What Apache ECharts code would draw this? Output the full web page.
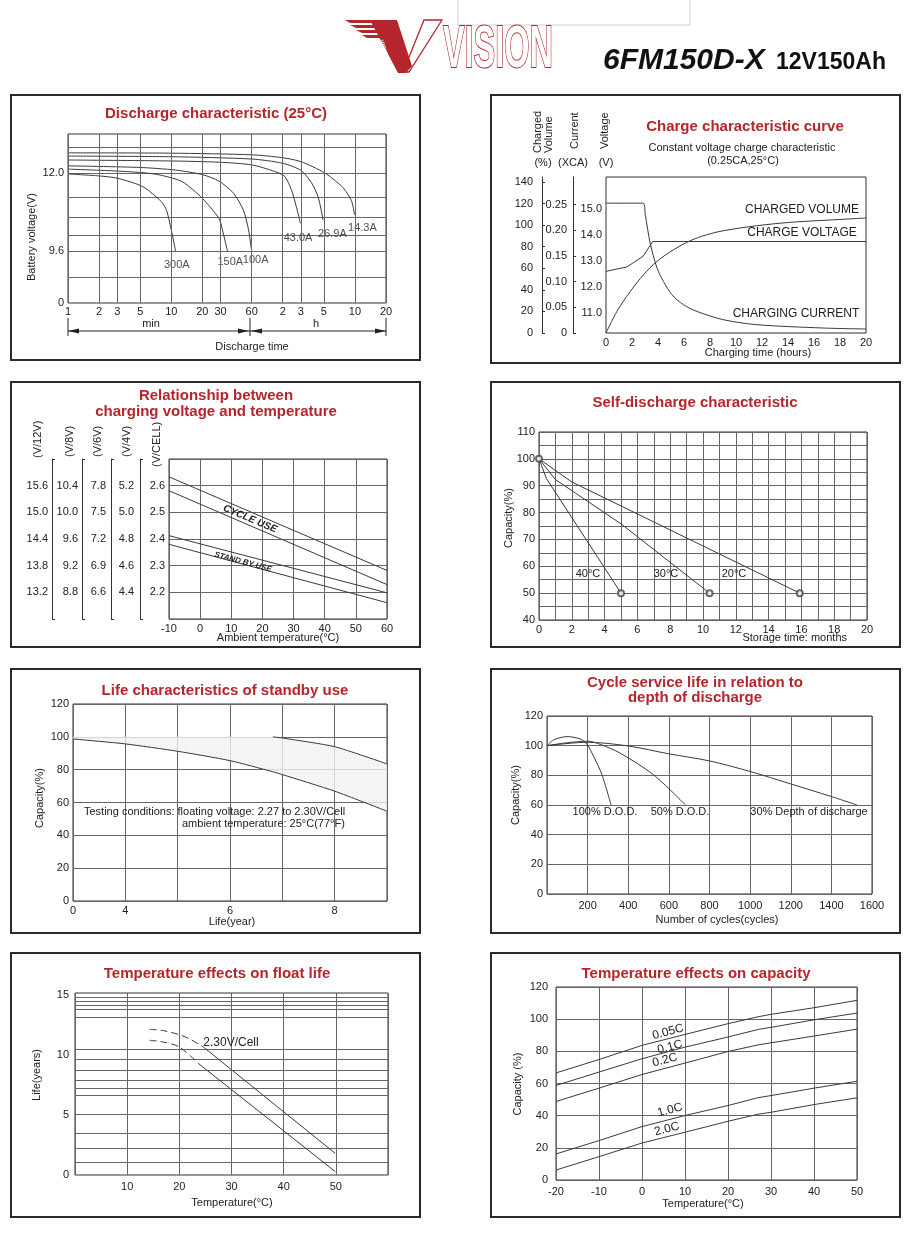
<!DOCTYPE html>
<html><head><meta charset="utf-8">
<script src="https://cdn.jsdelivr.net/npm/echarts@6.0.0/dist/echarts.min.js"></script>
<style>html,body{margin:0;padding:0;background:#fff}#c{width:920px;height:1236px}</style>
</head><body><div id="c"></div>
<script>
// ---------- Panel 1: Discharge characteristic (25°C) ----------
const dischargeTimeTicks = [1, 2, 3, 5, 10, 20, 30, 60, 120, 180, 300, 600, 1200]; // minutes
const dischargeTimeTickLabels = ['1', '2', '3', '5', '10', '20', '30', '60', '2', '3', '5', '10', '20'];
const dischargeVoltGrid = [8.8, 9.6, 10.1, 10.65, 11.25, 12.0, 12.8];
const dischargeVoltLabels = [8, 9.6, 12.0]; // bottom (8) is printed "0" on the broken axis
const dischargeCurrents = ['300A', '150A', '100A', '43.0A', '26.9A', '14.3A'];
const time300A = [1, 2, 3, 5.3, 8, 9, 10, 11];
const volt300A = [11.97, 11.91, 11.84, 11.58, 11.12, 10.85, 10.25, 9.6];
const time150A = [1, 3, 5.7, 8, 12.8, 20, 29, 31.3, 35];
const volt150A = [12.12, 12.06, 12.0, 11.93, 11.73, 11.22, 10.6, 10.25, 9.6];
const time100A = [1, 5, 11, 20, 29, 40, 50, 56, 60];
const volt100A = [12.22, 12.17, 12.09, 11.95, 11.75, 11.38, 10.85, 10.25, 9.6];
const time43A = [1, 10, 30, 60, 100, 125, 145, 163, 178];
const volt43A = [12.4, 12.37, 12.33, 12.25, 12.05, 11.9, 11.5, 10.95, 10.45];
const time26A = [1, 10, 60, 120, 180, 228, 265, 295];
const volt26A = [12.52, 12.5, 12.43, 12.3, 12.08, 11.7, 11.25, 10.55];
const time14A = [1, 10, 60, 120, 180, 307, 460, 555, 595];
const volt14A = [12.62, 12.61, 12.56, 12.47, 12.35, 12.0, 11.55, 11.15, 10.72];
const dischargeLabelTime = [11.3, 37.3, 65.6, 169, 363, 709];
const dischargeLabelVolt = [9.17, 9.27, 9.32, 10.01, 10.11, 10.3];

// ---------- Panel 2: Charge characteristic curve ----------
const chargeVolumeTicks = [0, 20, 40, 60, 80, 100, 120, 140];
const chargeCurrentTicks = [0, 0.05, 0.10, 0.15, 0.20, 0.25];
const chargeVoltageTicks = [11, 12, 13, 14, 15];
const volumeHours = [0, 0.84, 1.87, 2.89, 3.92, 5.2, 6.47, 7.76, 9.03, 11.6, 14.1, 16.7, 20];
const chargedVolume = [0, 20, 38.6, 54, 66.4, 77.2, 85.5, 91.1, 94.8, 99.4, 102.5, 104.4, 106.6];
const currentHours = [0, 2.85, 3.02, 3.4, 3.92, 4.42, 5.07, 5.96, 6.99, 9.03, 11.6, 16.7, 20];
const chargingCurrent = [0.253, 0.253, 0.2305, 0.175, 0.127, 0.1005, 0.0746, 0.0551, 0.0421, 0.0259, 0.0162, 0.0097, 0.0078];
const voltageHours = [0, 1.6, 2.85, 3.6, 20];
const chargeVoltage = [12.6, 12.77, 13.18, 13.75, 13.75];

// ---------- Panel 3: Charging voltage vs temperature ----------
const ambientTemp = [-10, 60];
const cycleUseUpper = [2.633, 2.282];
const cycleUseLower = [2.581, 2.229];
const standbyUseUpper = [2.4125, 2.198];
const standbyUseLower = [2.38, 2.161];
const perCellTicks = [2.2, 2.3, 2.4, 2.5, 2.6];
const per4VTicks = [4.4, 4.6, 4.8, 5.0, 5.2];
const per6VTicks = [6.6, 6.9, 7.2, 7.5, 7.8];
const per8VTicks = [8.8, 9.2, 9.6, 10.0, 10.4];
const per12VTicks = [13.2, 13.8, 14.4, 15.0, 15.6];

// ---------- Panel 4: Self-discharge ----------
const months40C = [0, 0.45, 5];
const capacity40C = [100, 92.7, 50];
const months30C = [0, 1, 5, 10.4];
const capacity30C = [100, 92.3, 75.8, 50];
const months20C = [0, 2, 15.9];
const capacity20C = [100, 91.4, 50];

// ---------- Panel 5: Standby life ----------
const standbyYearTickLabels = ['0', '4', '', '6', '', '8', ''];
const standbyGridPos = [0, 1, 2, 3, 3.82, 4, 5, 6];
const standbyUpperCap = [100, 100, 100, 100, 100, 99.3, 94, 83.5];
const standbyLowerCap = [98.7, 95.7, 91.2, 85.5, 78.7, 77, 66.9, 54.7];

// ---------- Panel 6: Cycle life vs DOD ----------
const cycles100DOD = [0, 32, 98, 164, 197, 230, 271, 315];
const capacity100DOD = [100, 103.8, 106.1, 104.5, 100.9, 92.6, 80.3, 60.1];
const cycles50DOD = [0, 100, 200, 262, 361, 525, 681];
const capacity50DOD = [100, 102, 103, 100.9, 94.9, 80.3, 60.1];
const cycles30DOD = [0, 200, 400, 600, 800, 1000, 1200, 1400, 1526];
const capacity30DOD = [100, 102.3, 99.8, 94.5, 89.7, 82.6, 74.2, 65.7, 60];

// ---------- Panel 7: Temperature vs float life ----------
const floatLifeTicks = [0, 5, 10, 15];
const floatLifeGrid = [1.05, 2.22, 3.47, 5.08, 6.67, 7.28, 7.92, 8.75, 9.67, 10.47, 13.19, 13.88, 14.17, 14.5, 14.86];
const upperDashTemp = [14.3, 17.0, 20.0, 22.1, 24.6];
const upperDashLife = [12.17, 12.05, 11.72, 11.33, 10.69];
const upperSolidTemp = [24.6, 49.9];
const upperSolidLife = [10.69, 1.8];
const lowerDashTemp = [14.3, 17.0, 20.0, 23.7];
const lowerDashLife = [11.25, 11.1, 10.69, 9.3];
const lowerSolidTemp = [23.7, 49.9];
const lowerSolidLife = [9.3, 0.28];

// ---------- Panel 8: Temperature vs capacity ----------
const capTemps = [-20, -10, 0, 10, 20, 27, 30, 40, 50];
const cap005C = [66.6, 74.9, 83.7, 90.5, 97.2, 101.5, 103, 107.1, 111.7];
const cap01C = [58.8, 67.1, 75.4, 82.6, 88.9, 93.6, 94.9, 99.6, 103.8];
const cap02C = [48.8, 57.1, 65.6, 72.7, 79.9, 84, 85.3, 89.5, 93.8];
const cap10C = [16.2, 24.5, 33.2, 40.1, 46.3, 51.2, 52.5, 57.1, 61.4];
const cap20C = [6.2, 14.5, 23, 29.7, 36.5, 40.9, 42.1, 46.9, 51.1];

// ================= build =================
const FONT = '"Liberation Sans", Arial, Helvetica, sans-serif';
const INK = '#222';
const CURVE = '#3a3a3a';
const GRIDC = '#666';
const RED = '#b5262c';

const grids = [], xAxes = [], yAxes = [], series = [], graphics = [];
function isObj(v) { return v && typeof v === 'object' && !Array.isArray(v); }
function merge(t, s) { for (const k in s) { const v = s[k]; if (isObj(v) && isObj(t[k])) merge(t[k], v); else t[k] = v; } return t; }
function grid(left, top, width, height) {
  grids.push({ left, top, width, height, show: true, borderColor: '#333', borderWidth: 1, backgroundColor: 'rgba(0,0,0,0)' });
  return grids.length - 1;
}
function axisBase() {
  return { type: 'value', axisLine: { show: false, lineStyle: { color: '#333', width: 1 } }, axisTick: { show: false },
    splitLine: { show: true, lineStyle: { color: GRIDC, width: 1 } },
    axisLabel: { color: INK, fontSize: 11, fontFamily: FONT, margin: 4 } };
}
function xAxis(gi, o) { xAxes.push(merge(merge(axisBase(), { gridIndex: gi, position: 'bottom' }), o)); return xAxes.length - 1; }
function yAxis(gi, o) { yAxes.push(merge(merge(axisBase(), { gridIndex: gi, position: 'left' }), o)); return yAxes.length - 1; }
function zip(xs, ys) { return xs.map((x, i) => [x, ys[i]]); }
function curve(xi, yi, xs, ys, o) {
  const s = merge({ type: 'line', xAxisIndex: xi, yAxisIndex: yi, data: zip(xs, ys), showSymbol: false, symbol: 'none',
    lineStyle: { color: CURVE, width: 1 }, silent: true, z: 3 }, o || {});
  series.push(s); return s;
}
function text(x, y, s, o) {
  graphics.push(merge({ type: 'text', x, y, silent: true, z: 10,
    style: { text: s, fill: INK, fontSize: 11, fontFamily: FONT, align: 'center', verticalAlign: 'middle' } }, o || {}));
}
function title(x, y, s) { text(x, y, s, { style: { fill: RED, fontSize: 15, fontWeight: 'bold' } }); }
function vtext(x, y, s, o) { text(x, y, s, merge({ rotation: Math.PI / 2 }, o || {})); }
function box(x, y, w, h) { graphics.push({ type: 'rect', silent: true, z: 9, shape: { x, y, width: w, height: h }, style: { fill: 'none', stroke: '#2a2a2a', lineWidth: 2 } }); }
function seg(x1, y1, x2, y2) { graphics.push({ type: 'line', silent: true, z: 10, shape: { x1, y1, x2, y2 }, style: { stroke: '#222', lineWidth: 1 } }); }
function tri(pts) { graphics.push({ type: 'polygon', silent: true, z: 10, shape: { points: pts }, style: { fill: '#222' } }); }

// stipple pattern for shaded band
const stipple = document.createElement('canvas');
stipple.width = 4; stipple.height = 4;
(function () { const c = stipple.getContext('2d'); c.fillStyle = '#f6f6f6'; c.fillRect(0, 0, 4, 4); c.fillStyle = '#dedede'; c.fillRect(0, 0, 1, 1); c.fillRect(2, 2, 1, 1); })();

// ----- header -----
graphics.push({ type: 'rect', silent: true, shape: { x: 458, y: -1, width: 232, height: 26 }, style: { fill: '#fff', stroke: '#cfcfcf', lineWidth: 1 } });
[[[345, 20], [372, 20], [374, 23], [350, 23]], [[350, 25], [375, 25], [377, 28], [356, 28]],
 [[356, 30], [378, 30], [380, 33], [362, 33]], [[362, 35], [381, 35], [383, 38], [367, 38]]].forEach(p =>
  graphics.push({ type: 'polygon', silent: true, shape: { points: p }, style: { fill: RED } }));
graphics.push({ type: 'polygon', silent: true, shape: { points: [[424, 20], [442, 20], [409, 72], [403, 72]] }, style: { fill: '#fff', stroke: RED, lineWidth: 1.3 } });
graphics.push({ type: 'polygon', silent: true, shape: { points: [[370, 20], [397, 20], [412, 66], [406, 73], [398, 73]] }, style: { fill: RED } });
text(384, 50, 'VISION', { rotation: -1.25, style: { fill: '#fff', fontSize: 6, fontWeight: 'bold' } });
text(443, 50, 'VISION', { scaleX: 0.54, style: { align: 'left', fontSize: 60, fontWeight: 'bold', fill: '#fff', stroke: RED, lineWidth: 2 } });
text(603, 61, '6FM150D-X', { style: { align: 'left', fontSize: 30, fontWeight: 'bold', fontStyle: 'italic', fill: '#111' } });
text(776, 63, '12V150Ah', { style: { align: 'left', fontSize: 23, fontWeight: 'bold', fill: '#111' } });

// ----- panel boxes -----
box(11, 95, 409, 265); box(491, 95, 409, 268);
box(11, 382, 409, 265); box(491, 382, 409, 265);
box(11, 669, 409, 264); box(491, 669, 409, 264);
box(11, 953, 409, 264); box(491, 953, 409, 264);

// ===== Panel 1 =====
const g1 = grid(68, 134, 318, 169);
const x1 = xAxis(g1, { type: 'log', logBase: 10, min: 1, max: 1200, axisLabel: { show: false }, splitLine: { show: false } });
const y1 = yAxis(g1, { min: 8, max: 13.2, axisLabel: { customValues: dischargeVoltLabels, formatter: v => v < 9 ? '0' : v.toFixed(1), margin: 4 },
  axisTick: { show: false, customValues: dischargeVoltGrid } });
curve(x1, y1, time300A, volt300A, { smooth: 0.25, markLine: {
  silent: true, symbol: ['none', 'none'], animation: false,
  lineStyle: { color: GRIDC, width: 1, type: 'solid' },
  label: { show: true, position: 'start', color: INK, fontSize: 11, fontFamily: FONT, distance: 3 },
  emphasis: { disabled: true },
  data: dischargeTimeTicks.map((v, i) => ({ xAxis: v, label: { formatter: dischargeTimeTickLabels[i] } }))
} });
curve(x1, y1, time150A, volt150A, { smooth: 0.25 });
curve(x1, y1, time100A, volt100A, { smooth: 0.25 });
curve(x1, y1, time43A, volt43A, { smooth: 0.25 });
curve(x1, y1, time26A, volt26A, { smooth: 0.25 });
curve(x1, y1, time14A, volt14A, { smooth: 0.25 });
series.push({ type: 'scatter', xAxisIndex: x1, yAxisIndex: y1, symbolSize: 1, silent: true, z: 4,
  itemStyle: { color: 'rgba(0,0,0,0)' },
  data: dischargeCurrents.map((n, i) => [dischargeLabelTime[i], dischargeLabelVolt[i], n]),
  label: { show: true, position: 'inside', formatter: p => p.data[2], color: INK, fontSize: 11, fontFamily: FONT } });
title(216, 114, 'Discharge characteristic (25°C)');
vtext(32, 237, 'Battery voltage(V)');
seg(68, 318, 68, 336); seg(250, 318, 250, 336); seg(386, 318, 386, 336);
seg(68, 331, 386, 331);
tri([[68, 331], [79, 328.5], [79, 333.5]]); tri([[249, 331], [238, 328.5], [238, 333.5]]);
tri([[251, 331], [262, 328.5], [262, 333.5]]); tri([[386, 331], [375, 328.5], [375, 333.5]]);
text(151, 324, 'min'); text(316, 324, 'h');
text(252, 347, 'Discharge time');

// ===== Panel 2 =====
const g2 = grid(606, 177, 260, 156);
const x2 = xAxis(g2, { min: 0, max: 20, interval: 2, splitLine: { show: false }, axisLabel: { margin: 4 } });
const y2v = yAxis(g2, { min: 10.23, max: 16.23, splitLine: { show: false },
  axisLabel: { customValues: chargeVoltageTicks, formatter: v => v.toFixed(1), margin: 4 } });
const y2c = yAxis(g2, { min: 0, max: 0.304, offset: 33, splitLine: { show: false }, axisLine: { show: true },
  axisTick: { show: true, inside: true, length: 3, customValues: chargeCurrentTicks, lineStyle: { color: '#333' } },
  axisLabel: { customValues: chargeCurrentTicks, formatter: v => v === 0 ? '0' : v.toFixed(2), margin: 6 } });
const y2p = yAxis(g2, { min: 0, max: 144.6, offset: 64, splitLine: { show: false }, axisLine: { show: true },
  axisTick: { show: true, inside: true, length: 3, customValues: chargeVolumeTicks, lineStyle: { color: '#333' } },
  axisLabel: { customValues: chargeVolumeTicks, margin: 9 } });
curve(x2, y2p, volumeHours, chargedVolume, { smooth: 0.35 });
curve(x2, y2c, currentHours, chargingCurrent, { smooth: 0.3 });
curve(x2, y2v, voltageHours, chargeVoltage, {});
title(745, 127, 'Charge characteristic curve');
text(742, 148, 'Constant voltage charge characteristic');
text(743, 161, '(0.25CA,25°C)');
vtext(538, 153, 'Charged', { style: { align: 'left' } });
vtext(549, 153, 'Volume', { style: { align: 'left' } });
vtext(575, 149, 'Current', { style: { align: 'left' } });
vtext(605, 149, 'Voltage', { style: { align: 'left' } });
text(543, 163, '(%)'); text(573, 163, '(XCA)'); text(606, 163, '(V)');
text(802, 210, 'CHARGED VOLUME', { style: { fontSize: 12 } });
text(802, 233, 'CHARGE VOLTAGE', { style: { fontSize: 12 } });
text(796, 314, 'CHARGING CURRENT', { style: { fontSize: 12 } });
text(758, 353, 'Charging time (hours)');

// ===== Panel 3 =====
const g3 = grid(169, 459, 218, 160);
const x3 = xAxis(g3, { min: -10, max: 60, interval: 10, axisLabel: { margin: 4 } });
const y3 = yAxis(g3, { min: 2.1, max: 2.7, interval: 0.1, axisLabel: { customValues: perCellTicks, formatter: v => v.toFixed(1), margin: 4 } });
[[per4VTicks, 2, 29, 6], [per6VTicks, 3, 58, 5], [per8VTicks, 4, 87, 4], [per12VTicks, 6, 117, 4]].forEach(([ticks, k, off, m]) => {
  yAxis(g3, { min: 2.1 * k, max: 2.7 * k, offset: off, splitLine: { show: false }, axisLine: { show: true },
    axisTick: { show: true, inside: true, length: 3, customValues: [2.1 * k, 2.7 * k], lineStyle: { color: '#333' } },
    axisLabel: { customValues: ticks, formatter: v => v.toFixed(1), margin: m } });
});
curve(x3, y3, ambientTemp, cycleUseUpper);
curve(x3, y3, ambientTemp, cycleUseLower);
curve(x3, y3, ambientTemp, standbyUseUpper);
curve(x3, y3, ambientTemp, standbyUseLower);
title(216, 396, 'Relationship between');
title(216, 412, 'charging voltage and temperature');
vtext(38, 458, '(V/12V)', { style: { align: 'left' } });
vtext(70, 457, '(V/8V)', { style: { align: 'left' } });
vtext(98, 457, '(V/6V)', { style: { align: 'left' } });
vtext(127, 457, '(V/4V)', { style: { align: 'left' } });
vtext(157, 467, '(V/CELL)', { style: { align: 'left' } });
text(250, 519, 'CYCLE USE', { rotation: -23 * Math.PI / 180, style: { fontSize: 10, fontWeight: 'bold', fontStyle: 'italic' } });
text(243, 562, 'STAND BY USE', { rotation: -15 * Math.PI / 180, style: { fontSize: 8, fontWeight: 'bold', fontStyle: 'italic' } });
text(278, 638, 'Ambient temperature(°C)');

// ===== Panel 4 =====
const g4 = grid(539, 432, 328, 188);
const x4 = xAxis(g4, { min: 0, max: 20, interval: 1, axisLabel: { formatter: v => (v % 2 ? '' : String(v)), margin: 4 } });
const y4 = yAxis(g4, { min: 40, max: 110, interval: 5, axisLabel: { formatter: v => (v % 10 ? '' : String(v)), margin: 4 } });
curve(x4, y4, months40C, capacity40C);
curve(x4, y4, months30C, capacity30C);
curve(x4, y4, months20C, capacity20C);
const selfEnds = [[months40C[0], capacity40C[0]]].concat([[months40C, capacity40C], [months30C, capacity30C], [months20C, capacity20C]]
  .map(([m, c]) => [m[m.length - 1], c[c.length - 1]]));
series.push({ type: 'scatter', xAxisIndex: x4, yAxisIndex: y4, silent: true, z: 4, symbol: 'emptyCircle', symbolSize: 6,
  itemStyle: { color: '#444', borderColor: '#444', borderWidth: 1 }, data: selfEnds });
title(695, 403, 'Self-discharge characteristic');
vtext(509, 518, 'Capacity(%)');
text(588, 574, '40°C'); text(666, 574, '30°C'); text(734, 574, '20°C');
text(847, 638, 'Storage time: months', { style: { align: 'right' } });

// ===== Panel 5 =====
const g5 = grid(73, 704, 314, 197);
const x5 = xAxis(g5, { min: 0, max: 6, interval: 1, axisLabel: { formatter: v => standbyYearTickLabels[Math.round(v)], margin: 4 } });
const y5 = yAxis(g5, { min: 0, max: 120, interval: 20, axisLabel: { margin: 4 } });
series.push({ type: 'custom', xAxisIndex: x5, yAxisIndex: y5, silent: true, z: 2, data: [[0, 0]],
  renderItem: (params, api) => {
    const top = standbyGridPos.map((x, i) => api.coord([x, standbyUpperCap[i]]));
    const bottom = standbyGridPos.map((x, i) => api.coord([x, standbyLowerCap[i]])).reverse();
    return { type: 'polygon', shape: { points: top.concat(bottom) }, style: { fill: { image: stipple, repeat: 'repeat' }, opacity: 0.8 } };
  } });
curve(x5, y5, standbyGridPos, standbyLowerCap, { smooth: 0.2 });
curve(x5, y5, standbyGridPos.slice(4), standbyUpperCap.slice(4), { smooth: 0.2 });
title(225, 691, 'Life characteristics of standby use');
vtext(40, 798, 'Capacity(%)');
text(84, 812, 'Testing conditions: floating voltage: 2.27 to 2.30V/Cell', { style: { align: 'left' } });
text(182, 824, 'ambient temperature: 25°C(77°F)', { style: { align: 'left' } });
text(232, 922, 'Life(year)');

// ===== Panel 6 =====
const g6 = grid(547, 716, 325, 178);
const x6 = xAxis(g6, { min: 0, max: 1600, interval: 200, axisLabel: { formatter: v => (v === 0 ? '' : String(v)), margin: 6 } });
const y6 = yAxis(g6, { min: 0, max: 120, interval: 20, axisLabel: { margin: 4 } });
curve(x6, y6, cycles100DOD, capacity100DOD, { smooth: 0.3 });
curve(x6, y6, cycles50DOD, capacity50DOD, { smooth: 0.3 });
curve(x6, y6, cycles30DOD, capacity30DOD, { smooth: 0.3 });
title(695, 683, 'Cycle service life in relation to');
title(695, 698, 'depth of discharge');
vtext(516, 795, 'Capacity(%)');
text(605, 812, '100% D.O.D.'); text(680, 812, '50% D.O.D.'); text(809, 812, '30% Depth of discharge');
text(717, 920, 'Number of cycles(cycles)');

// ===== Panel 7 =====
const g7 = grid(75, 993, 313, 182);
const x7 = xAxis(g7, { min: 0, max: 60, interval: 10, axisLabel: { formatter: v => (v === 0 || v === 60 ? '' : String(v)), margin: 6 } });
const y7 = yAxis(g7, { min: 0, max: 15.2, axisLabel: { customValues: floatLifeTicks, margin: 6 }, axisTick: { show: false, customValues: floatLifeGrid } });
curve(x7, y7, upperDashTemp, upperDashLife, { smooth: 0.3, lineStyle: { type: [7, 4] } });
curve(x7, y7, upperSolidTemp, upperSolidLife);
curve(x7, y7, lowerDashTemp, lowerDashLife, { smooth: 0.3, lineStyle: { type: [7, 4] } });
curve(x7, y7, lowerSolidTemp, lowerSolidLife);
title(217, 974, 'Temperature effects on float life');
vtext(37, 1075, 'Life(years)');
text(231, 1043, '2.30V/Cell', { style: { fontSize: 12 } });
text(232, 1203, 'Temperature(°C)');

// ===== Panel 8 =====
const g8 = grid(556, 987, 301, 193);
const x8 = xAxis(g8, { min: -20, max: 50, interval: 10, axisLabel: { margin: 6 } });
const y8 = yAxis(g8, { min: 0, max: 120, interval: 20, axisLabel: { margin: 8 } });
curve(x8, y8, capTemps, cap005C);
curve(x8, y8, capTemps, cap01C);
curve(x8, y8, capTemps, cap02C);
curve(x8, y8, capTemps, cap10C);
curve(x8, y8, capTemps, cap20C);
title(696, 974, 'Temperature effects on capacity');
vtext(518, 1084, 'Capacity (%)');
const rot8 = 15 * Math.PI / 180;
[['0.05C', 668, 1032], ['0.1C', 670, 1047], ['0.2C', 665, 1060], ['1.0C', 670, 1110], ['2.0C', 667, 1129]].forEach(([s, x, y]) =>
  text(x, y, s, { rotation: rot8, style: { fontSize: 12 } }));
text(703, 1204, 'Temperature(°C)');

const chart = echarts.init(document.getElementById('c'), null, { renderer: 'canvas', width: 920, height: 1236 });
chart.setOption({
  animation: false,
  backgroundColor: '#fff',
  grid: grids, xAxis: xAxes, yAxis: yAxes, series: series,
  graphic: { elements: graphics }
});
</script></body></html>
